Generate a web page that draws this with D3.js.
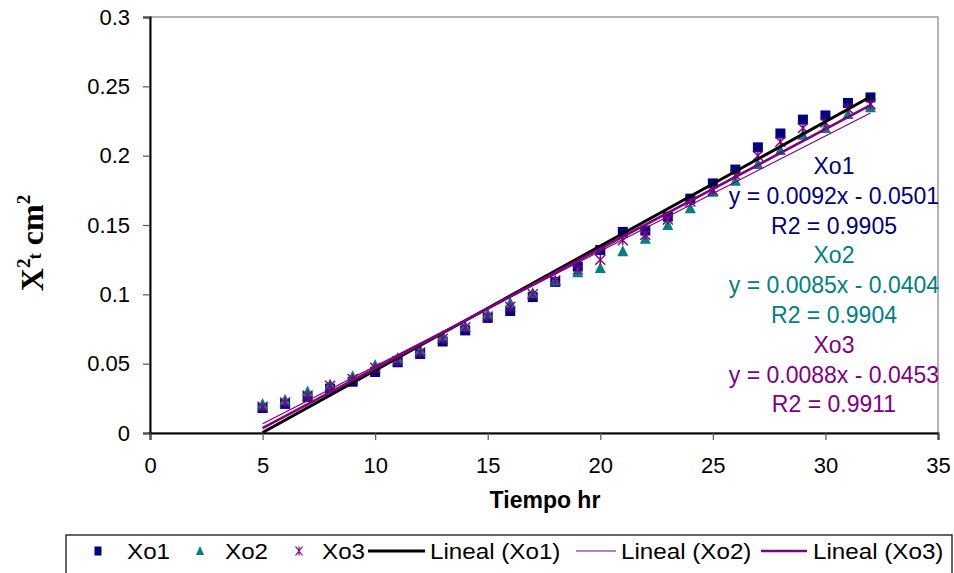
<!DOCTYPE html>
<html>
<head>
<meta charset="utf-8">
<script src="https://cdn.jsdelivr.net/npm/d3@7"></script>
<style>
  html, body { margin: 0; padding: 0; background: #fff; }
  svg { display: block; }
  text { font-family: "Liberation Sans", Arial, sans-serif; }
</style>
</head>
<body>
<svg id="chart" width="954" height="573"></svg>
<script>
// ---------- data ----------
const time = [5, 6, 7, 8, 9, 10, 11, 12, 13, 14, 15, 16, 17, 18, 19, 20, 21, 22, 23, 24, 25, 26, 27, 28, 29, 30, 31, 32];
const xo1 = [0.018, 0.021, 0.026, 0.032, 0.037, 0.044, 0.051, 0.057, 0.066, 0.074, 0.083, 0.088, 0.098, 0.109,
             0.120, 0.132, 0.145, 0.146, 0.156, 0.169, 0.180, 0.190, 0.206, 0.216, 0.226, 0.229, 0.238, 0.242];
const xo2 = [0.021, 0.024, 0.030, 0.035, 0.041, 0.049, 0.054, 0.060, 0.070, 0.077, 0.086, 0.094, 0.101, 0.110,
             0.116, 0.119, 0.131, 0.140, 0.150, 0.162, 0.174, 0.182, 0.194, 0.204, 0.215, 0.220, 0.230, 0.235];
const xo3 = [0.019, 0.022, 0.027, 0.034, 0.039, 0.047, 0.052, 0.058, 0.068, 0.076, 0.084, 0.091, 0.100, 0.110,
             0.118, 0.125, 0.139, 0.143, 0.154, 0.167, 0.175, 0.186, 0.200, 0.210, 0.220, 0.224, 0.234, 0.237];
const seriesNames = ["Xo1", "Xo2", "Xo3"];
const trendNames = ["Lineal (Xo1)", "Lineal (Xo2)", "Lineal (Xo3)"];
const equations = ["y = 0.0092x - 0.0501", "y = 0.0085x - 0.0404", "y = 0.0088x - 0.0453"];
const r2Labels = ["R2 = 0.9905", "R2 = 0.9904", "R2 = 0.9911"];
const xTicks = [0, 5, 10, 15, 20, 25, 30, 35];
const yTicks = [0, 0.05, 0.1, 0.15, 0.2, 0.25, 0.3];
const yTickLabels = ["0", "0.05", "0.1", "0.15", "0.2", "0.25", "0.3"];
const xTitle = "Tiempo hr";

// ---------- styles ----------
const colors = ["#000080", "#008080", "#800080"];
const trendColors = ["#000000", "#800080", "#800080"];
const trendWidths = [3, 1.2, 2.6];

const svg = d3.select("#chart");
const L = 150, R = 938, T = 17, B = 433;
const x = d3.scaleLinear().domain([0, 35]).range([L, R]);
const y = d3.scaleLinear().domain([0, 0.3]).range([B, T]);

// plot border (top/right gray)
svg.append("rect").attr("x", L).attr("y", T).attr("width", R - L).attr("height", B - T)
  .attr("fill", "none").attr("stroke", "#808080").attr("stroke-width", 1.2);

// axes
const yAxis = d3.axisLeft(y).tickValues(yTicks).tickSize(7).tickFormat((d, i) => yTickLabels[i]);
const gy = svg.append("g").attr("transform", `translate(${L},0)`).call(yAxis);
gy.select(".domain").attr("stroke", "#000").attr("stroke-width", 2);
gy.selectAll(".tick line").attr("stroke", "#555").attr("stroke-width", 1.2);
gy.selectAll(".tick text").attr("font-size", 22).attr("fill", "#000").attr("x", -20)
  .attr("font-family", "Liberation Sans, Arial, sans-serif");

const xAxis = d3.axisBottom(x).tickValues(xTicks).tickSize(7).tickFormat(d3.format("d"));
const gx = svg.append("g").attr("transform", `translate(0,${B})`).call(xAxis);
gx.select(".domain").attr("stroke", "#000").attr("stroke-width", 2);
gx.selectAll(".tick line").attr("stroke", "#555").attr("stroke-width", 1.2);
gx.selectAll(".tick text").attr("font-size", 22).attr("fill", "#000").attr("y", 24)
  .attr("font-family", "Liberation Sans, Arial, sans-serif");

// axis titles
svg.append("text").attr("x", 545).attr("y", 508).attr("text-anchor", "middle")
  .attr("font-size", 23).attr("font-weight", "bold").text(xTitle);

const yt = svg.append("text").attr("transform", "translate(43,243) rotate(-90)")
  .attr("text-anchor", "middle")
  .style("font-family", "'Liberation Serif', 'Times New Roman', serif")
  .attr("font-weight", "bold").attr("font-size", 32);
yt.append("tspan").text("X");
yt.append("tspan").attr("font-size", 19).attr("dy", -13).text("2");
yt.append("tspan").attr("font-size", 19).attr("dy", 11).attr("dx", -1).text("t");
yt.append("tspan").attr("dy", 2).text(" cm");
yt.append("tspan").attr("font-size", 19).attr("dy", -13).text("2");

// clip
svg.append("clipPath").attr("id", "plotclip").append("rect")
  .attr("x", L).attr("y", T).attr("width", R - L).attr("height", B - T);

// markers
const datasets = [xo1, xo2, xo3];
const pts = (arr) => time.map((t, i) => ({ t, v: arr[i] }));

svg.append("g").selectAll("rect").data(pts(xo1)).join("rect")
  .attr("x", d => x(d.t) - 5).attr("y", d => y(d.v) - 5)
  .attr("width", 10).attr("height", 10).attr("fill", colors[0]);

svg.append("g").selectAll("path").data(pts(xo2)).join("path")
  .attr("d", d => `M${x(d.t)},${y(d.v) - 6}L${x(d.t) + 5.5},${y(d.v) + 5}L${x(d.t) - 5.5},${y(d.v) + 5}Z`)
  .attr("fill", colors[1]);

svg.append("g").selectAll("path").data(pts(xo3)).join("path")
  .attr("d", d => {
    const cx = x(d.t), cy = y(d.v), s = 5;
    return `M${cx - s},${cy - s}L${cx + s},${cy + s}M${cx + s},${cy - s}L${cx - s},${cy + s}M${cx},${cy - s}L${cx},${cy + s}`;
  })
  .attr("stroke", colors[2]).attr("stroke-width", 1.4).attr("fill", "none");

// trend lines: least squares over each series
function linreg(xs, ys) {
  const n = xs.length, mx = d3.mean(xs), my = d3.mean(ys);
  let sxy = 0, sxx = 0;
  for (let i = 0; i < n; i++) { sxy += (xs[i] - mx) * (ys[i] - my); sxx += (xs[i] - mx) ** 2; }
  const m = sxy / sxx; return { m, b: my - m * mx };
}
const tExt = d3.extent(time);
const tg = svg.append("g").attr("clip-path", "url(#plotclip)");
datasets.forEach((arr, k) => {
  const { m, b } = linreg(time, arr);
  const line = d3.line().x(d => x(d)).y(d => y(m * d + b));
  tg.append("path").attr("d", line(tExt)).attr("stroke", trendColors[k])
    .attr("stroke-width", trendWidths[k]).attr("fill", "none");
});

// equation labels
const eqG = svg.append("g").attr("text-anchor", "middle").attr("font-size", 23);
const eqY0 = 174, eqStep = 29.8;
seriesNames.forEach((nm, k) => {
  const base = eqY0 + k * 3 * eqStep;
  [nm, equations[k], r2Labels[k]].forEach((s, j) => {
    eqG.append("text").attr("x", 834).attr("y", base + j * eqStep).attr("fill", colors[k]).text(s);
  });
});

// legend
const lg = svg.append("g");
lg.append("rect").attr("x", 66).attr("y", 535).attr("width", 886).attr("height", 60)
  .attr("fill", "#fff").attr("stroke", "#000").attr("stroke-width", 1.2);
const legY = 551;
const legFont = 22;
const legStretch = 1.1;
const legText = (tx, s) => lg.append("text")
  .attr("transform", `translate(${tx},${legY + 8}) scale(${legStretch},1)`)
  .attr("font-size", legFont).text(s);
// marker items
const legMarkX = [98, 200, 299];
const legTextX = [127, 225, 322];
lg.append("rect").attr("x", legMarkX[0] - 3.5).attr("y", legY - 4.5).attr("width", 7).attr("height", 9).attr("fill", colors[0]);
lg.append("path").attr("d", `M${legMarkX[1]},${legY - 5}L${legMarkX[1] + 4},${legY + 4}L${legMarkX[1] - 4},${legY + 4}Z`).attr("fill", colors[1]);
lg.append("path").attr("d", `M${legMarkX[2] - 3.5},${legY - 4.5}L${legMarkX[2] + 3.5},${legY + 4.5}M${legMarkX[2] + 3.5},${legY - 4.5}L${legMarkX[2] - 3.5},${legY + 4.5}M${legMarkX[2]},${legY - 4.5}L${legMarkX[2]},${legY + 4.5}`)
  .attr("stroke", colors[2]).attr("stroke-width", 1.2);
seriesNames.forEach((nm, k) => legText(legTextX[k], nm));
const legLineX = [[368, 425], [576, 616], [761, 807]];
const legLineTextX = [430, 621, 813];
trendNames.forEach((nm, k) => {
  lg.append("line").attr("x1", legLineX[k][0]).attr("x2", legLineX[k][1]).attr("y1", legY).attr("y2", legY)
    .attr("stroke", trendColors[k]).attr("stroke-width", trendWidths[k]);
  legText(legLineTextX[k], nm);
});
</script>
</body>
</html>
